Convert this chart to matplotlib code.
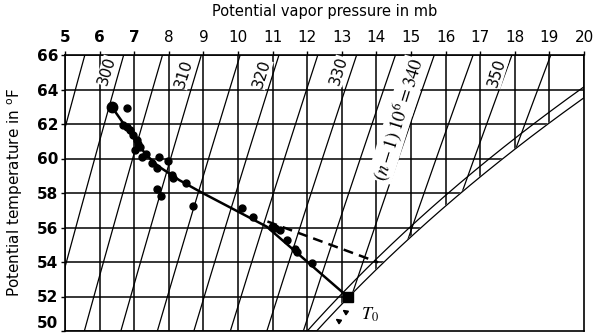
import numpy as np
import matplotlib.pyplot as plt

plt.rcParams['font.family'] = ['DejaVu Sans']
plt.rcParams['mathtext.fontset'] = 'stix'

# axes: potential vapor pressure (mb) across the top, potential temperature (F) up the side
e_ticks = np.arange(5, 21)
t_ticks = np.arange(50, 67, 2)

# observed pairs (vapor pressure mb, temperature F)
vap = [6.35, 6.80, 6.69, 6.78, 6.88, 6.97, 7.07, 7.12, 7.17, 7.02, 7.22, 7.34,
       7.72, 7.99, 7.50, 7.65, 8.08, 8.13, 8.49, 7.65, 7.77, 8.69, 10.11, 10.44,
       10.97, 11.07, 11.21, 11.43, 11.65, 11.70, 12.13]
temp = [63.0, 62.9, 61.94, 61.84, 61.65, 61.36, 61.07, 60.82, 60.68, 60.49, 60.10, 60.24,
        60.10, 59.87, 59.72, 59.43, 59.04, 58.85, 58.60, 58.23, 57.84, 57.26, 57.11, 56.63,
        56.05, 55.95, 55.86, 55.28, 54.74, 54.60, 53.92]

# profile drawn through the points, ending at T0
prof_e = [6.35, 6.7, 7.05, 7.35, 7.7, 8.3, 8.9, 10.83, 13.19]
prof_t = [63.0, 62.0, 61.0, 60.2, 59.55, 58.75, 58.08, 56.05, 51.95]
t0_e, t0_t = 13.19, 51.95

# dashed branch
dash_e = [10.85, 14.05]
dash_t = [56.35, 53.98]

# refractivity isolines (n-1)10^6 and where they are labelled
n_levels = np.arange(295, 360, 5)
n_labels = [300, 310, 320, 330, 350]
n_label_e = [6.21, 8.44, 10.69, 12.92, 17.49]
n_label_t = [65.07, 64.9, 64.9, 65.07, 64.96]

DRY = 78900.0   # K, dry term coefficient
WET = 3.80e5    # K^2/mb, wet term coefficient


def f_to_k(tf):
    return (tf - 32.0) / 1.8 + 273.15


def e_on_isoline(n, tf):
    tk = f_to_k(tf)
    return (n - DRY / tk) * tk ** 2 / WET


def e_sat(tf):
    tc = (tf - 32.0) / 1.8
    return 6.112 * np.exp(17.67 * tc / (tc + 243.5))


fig = plt.figure(figsize=(5.95, 3.34), dpi=100)
ax = fig.add_axes([65 / 595, 3 / 334, 519 / 595, 276 / 334])
ax.set_xlim(5, 20)
ax.set_ylim(50, 66)

ax.xaxis.tick_top()
ax.xaxis.set_label_position('top')
ax.set_xticks(e_ticks)
ax.set_yticks(t_ticks)
ax.tick_params(direction='out', length=3, width=1, colors='black')
ax.tick_params(axis='x', labelsize=11, pad=4)
ax.tick_params(axis='y', labelsize=11, pad=2)
for lab in ax.get_yticklabels():
    lab.set_fontweight('bold')
for lab in ax.get_xticklabels()[:3]:
    lab.set_fontweight('bold')
ax.get_yticklabels()[0].set_va('bottom')
ax.set_xlabel('Potential vapor pressure in mb', fontsize=10.5, labelpad=10)
ax.set_ylabel('Potential temperature in $\\mathregular{^oF}$', fontsize=11, labelpad=8)
for s in ax.spines.values():
    s.set_linewidth(1.2)

ax.grid(True, color='black', lw=1.1)
ax.set_axisbelow(True)

tt = np.linspace(48, 68, 200)
for n in n_levels:
    ax.plot(e_on_isoline(n, tt), tt, color='black', lw=0.9, zorder=1)

# blank out the region beyond saturation
ax.fill_betweenx(tt, e_sat(tt), 22, color='white', zorder=2)
ax.plot(e_sat(tt), tt, color='black', lw=0.9, zorder=3)
ax.plot(0.978 * e_sat(tt), tt, color='black', lw=0.9, zorder=3)

# label angle taken from the isoline direction on screen
p0 = ax.transData.transform((e_on_isoline(320, 58), 58))
p1 = ax.transData.transform((e_on_isoline(320, 64), 64))
ang = np.degrees(np.arctan2(p1[1] - p0[1], p1[0] - p0[0]))

for lab, x, y in zip(n_labels, n_label_e, n_label_t):
    ax.text(x, y, str(lab), rotation=ang, ha='center', va='center', fontsize=11,
            zorder=4, bbox=dict(facecolor='white', edgecolor='none', pad=0.2))
ax.text(14.62, 62.25, '$(n-1)\\;10^6 = 340$', rotation=ang, ha='center', va='center',
        fontsize=13.5, zorder=4, bbox=dict(facecolor='white', edgecolor='none', pad=0.3))

ax.plot(prof_e, prof_t, color='black', lw=1.8, zorder=5)
ax.plot(dash_e, dash_t, color='black', lw=1.8, ls=(0, (4, 2.5)), zorder=5)
ax.plot(vap, temp, 'o', color='black', ms=5, zorder=6)
ax.plot([6.35], [63.0], 'o', color='black', ms=7.5, zorder=6)
ax.plot([t0_e], [t0_t], 's', color='black', ms=7, zorder=6)

for xe, yt in [(12.95, 51.33), (12.75, 50.81)]:
    ax.annotate('', xy=(xe, yt), xytext=(xe + 0.25, yt - 0.35),
                arrowprops=dict(arrowstyle='-|>', color='black', lw=1.2, mutation_scale=7), zorder=6)
ax.text(13.82, 50.93, '$T_0$', fontsize=13, ha='center', va='center', zorder=6)

fig.savefig('out.png', dpi=100)
